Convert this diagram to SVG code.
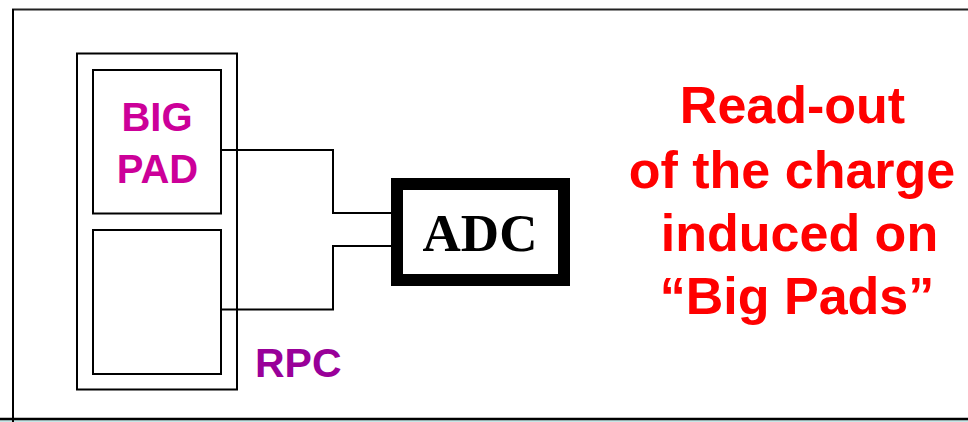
<svg xmlns="http://www.w3.org/2000/svg" width="968" height="422" viewBox="0 0 968 422">
  <style>
    .frame { fill: none; stroke: #000; stroke-width: 2; }
    .box { fill: #fff; stroke: #000; stroke-width: 2; }
    .wire { fill: none; stroke: #000; stroke-width: 2; }
    .pad { font-family: "Liberation Sans", Arial, sans-serif; font-weight: bold; font-size: 40px; fill: #cc0099; text-anchor: middle; }
    .rpc { font-family: "Liberation Sans", Arial, sans-serif; font-weight: bold; font-size: 41px; fill: #990099; }
    .adc { font-family: "Liberation Serif", "Times New Roman", serif; font-weight: bold; font-size: 53px; fill: #000; text-anchor: middle; }
    .note { font-family: "Liberation Sans", Arial, sans-serif; font-weight: bold; font-size: 52px; fill: #ff0000; text-anchor: middle; }
  </style>

  <rect x="0" y="0" width="968" height="422" fill="#fff"/>
  <!-- page frame -->
  <rect x="0" y="420" width="968" height="2" fill="#c6e6e6"/>
  <line x1="12" y1="9.5" x2="968" y2="9.5" stroke="#222" stroke-width="2"/>
  <line x1="13" y1="9" x2="13" y2="422" stroke="#000" stroke-width="2"/>
  <line x1="0" y1="419" x2="968" y2="419" stroke="#000" stroke-width="2.5"/>

  <g id="rpc">
    <rect class="box" x="77" y="53.5" width="160" height="336"/>
    <text class="rpc" x="255" y="377">RPC</text>
  </g>

  <g id="big-pad">
    <rect class="box" x="93" y="70" width="128" height="143.5"/>
    <text class="pad" x="157" y="131">BIG</text>
    <text class="pad" x="157.5" y="183">PAD</text>
  </g>

  <g id="pad-2">
    <rect class="box" x="93" y="230" width="128" height="144"/>
  </g>

  <g id="connectors">
    <polyline class="wire" points="221,150 333,150 333,213 392,213"/>
    <polyline class="wire" points="221,309.5 333,309.5 333,246 392,246"/>
  </g>

  <g id="adc">
    <rect x="397" y="184" width="167" height="96" fill="#fff" stroke="#000" stroke-width="12"/>
    <text class="adc" x="480" y="251">ADC</text>
  </g>

  <g id="caption">
    <text class="note" x="792.5" y="123">Read-out</text>
    <text class="note" x="792" y="188">of the charge</text>
    <text class="note" x="799.5" y="251">induced on</text>
    <text class="note" x="797" y="314">“Big Pads”</text>
  </g>
</svg>
